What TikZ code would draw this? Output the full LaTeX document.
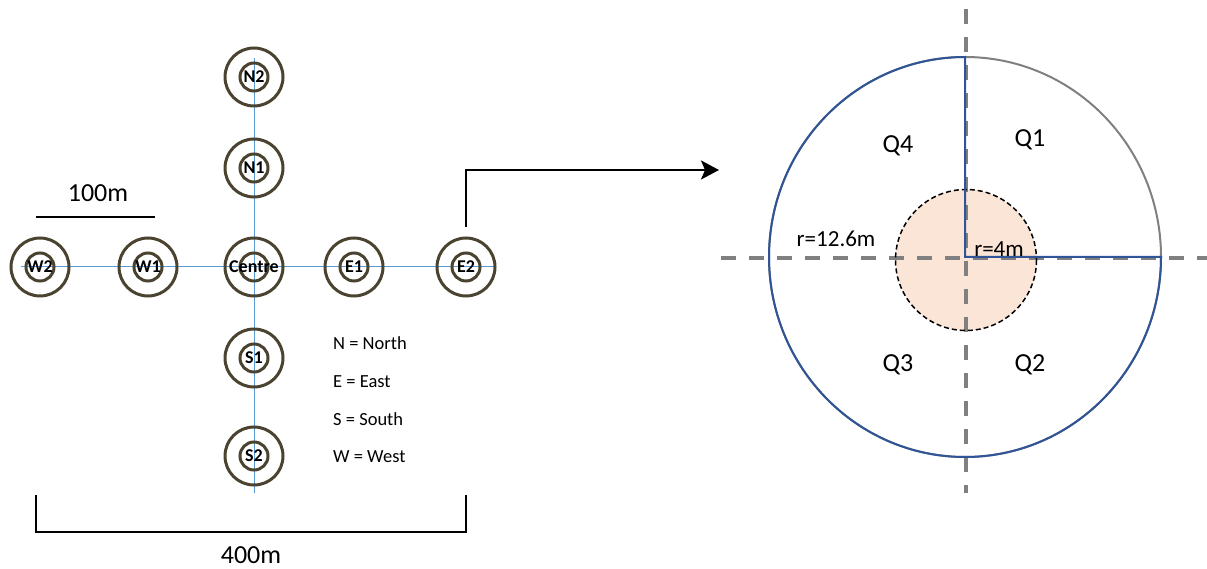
\documentclass[tikz,border=0pt]{standalone}
\usepackage{fontspec}
\setmainfont{Carlito}
\usetikzlibrary{arrows.meta}
\definecolor{ring}{HTML}{4A4330}
\definecolor{axisblue}{HTML}{5B9BD5}
\definecolor{darkblue}{HTML}{2F5597}
\definecolor{peach}{HTML}{FBE5D6}
\definecolor{axgray}{HTML}{808080}
\begin{document}
\begin{tikzpicture}[x=1pt,y=-1pt,
  site/.style={circle, draw=ring, line width=3pt, minimum size=58pt, inner sep=0pt,
    font=\fontsize{18}{18}\selectfont\bfseries,
    path picture={\draw[ring, line width=3pt] (path picture bounding box.center) circle (14pt);}},
  gridline/.style={draw=axisblue, line width=1pt},
  bigtext/.style={font=\fontsize{26}{26}\selectfont, inner sep=0pt},
  legendtext/.style={font=\fontsize{18.5}{20}\selectfont, anchor=west, inner sep=0pt},
  qlab/.style={font=\fontsize{26}{26}\selectfont, inner sep=0pt},
  rlab/.style={font=\fontsize{23}{23}\selectfont, inner sep=0pt},
  axisline/.style={draw=axgray, line width=3.5pt, dash pattern=on 15pt off 13pt},
  blackline/.style={draw=black, line width=2pt},
]
\useasboundingbox (0,0) rectangle (1207,569);

% site positions
\coordinate (pW2) at (40,267);
\coordinate (pW1) at (148,267);
\coordinate (pC) at (254,267);
\coordinate (pE1) at (354,267);
\coordinate (pE2) at (466,267);
\coordinate (pN2) at (254,77);
\coordinate (pN1) at (254,168);
\coordinate (pS1) at (254,358);
\coordinate (pS2) at (254,456);
\coordinate (hl) at (21,267);
\coordinate (hr) at (495,267);
\coordinate (vt) at (254,58);
\coordinate (vb) at (254,493);

% blue grid
\draw[gridline] (hl) -- (hr);
\draw[gridline] (vt) -- (vb);

% sites
\node[site] (W2) at (pW2) {W2};
\node[site] (W1) at (pW1) {W1};
\node[site] (C) at (pC) {Centre};
\node[site] (E1) at (pE1) {E1};
\node[site] (E2) at (pE2) {E2};
\node[site] (N2) at (pN2) {N2};
\node[site] (N1) at (pN1) {N1};
\node[site] (S1) at (pS1) {S1};
\node[site] (S2) at (pS2) {S2};

% arrow
\coordinate (a0) at (466,227);
\coordinate (a1) at (719,170);
\draw[blackline, -{Stealth[length=18pt, width=19pt, inset=4pt]}] (a0) |- (a1);

% scale bar 100m
\coordinate (s0) at (36,217);
\coordinate (s1) at (155,217);
\draw[blackline] (s0) -- (s1);
\node[bigtext] (t100) at (98,193) {100m};

% bracket 400m
\coordinate (b0) at (36,495);
\coordinate (b1) at (36,532);
\coordinate (b2) at (466,532);
\coordinate (b3) at (466,495);
\draw[blackline] (b0) -- (b1) -- (b2) -- (b3);
\node[bigtext] (t400) at (251,555) {400m};

% legend
\node[legendtext] (lN) at (333,343) {N = North};
\node[legendtext] (lE) at (333,382) {E = East};
\node[legendtext] (lS) at (333,419) {S = South};
\node[legendtext] (lW) at (333,457) {W = West};

% right diagram
\coordinate (O) at (965,257);
\coordinate (Oi) at (966,260);
\fill[peach] (Oi) circle (70.5);
\draw[axgray, line width=2pt] (O) ellipse [x radius=196, y radius=200];
\coordinate (xl) at (721,258);
\coordinate (xr) at (1207,258);
\coordinate (yt) at (966,9);
\coordinate (yb) at (966,493);
\draw[axisline] (xl) -- (xr);
\draw[axisline] (yt) -- (yb);
\draw[black, line width=1.5pt, dash pattern=on 5pt off 3pt] (Oi) circle (70.5);
\draw[darkblue, line width=2pt, line join=miter] (965,57) arc[start angle=-90, end angle=-360, x radius=196, y radius=200] -- (O) -- cycle;

\node[qlab] (q4) at (898,146) {Q4};
\node[qlab] (q1) at (1030,140) {Q1};
\node[qlab] (q3) at (898,365) {Q3};
\node[qlab] (q2) at (1030,365) {Q2};
\node[rlab] (r1) at (836,239) {r=12.6m};
\node[rlab] (r2) at (999,249) {r=4m};
\end{tikzpicture}
\end{document}
